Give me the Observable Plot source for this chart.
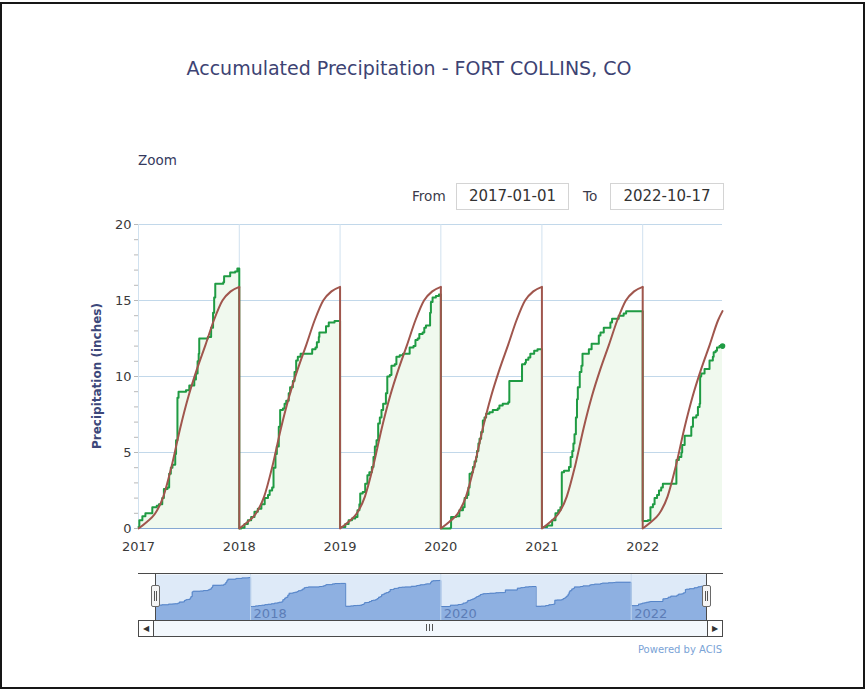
<!DOCTYPE html>
<html>
<head>
<meta charset="utf-8">
<script src="https://cdn.jsdelivr.net/npm/d3@7"></script>
<script src="https://cdn.jsdelivr.net/npm/@observablehq/plot@0.6"></script>
<style>
  body { margin:0; width:867px; height:689px; position:relative; background:#fff; overflow:hidden; font-family:"DejaVu Sans", sans-serif; }
  .abs { position:absolute; }
  .frameBorder { left:0px; top:2px; width:861px; height:683px; border:2px solid #161616; }
  .title { left:0; top:56px; width:818px; text-align:center; font-size:19px; line-height:24px; color:#3d4373; }
  .zoom { left:138px; top:151px; font-size:13.5px; line-height:18px; color:#353a5e; }
  .lbl { font-size:13.6px; line-height:18px; color:#3a3a4a; top:187px; }
  .inp { top:183px; height:25px; border:1px solid #d4d4d4; font-size:15px; line-height:25px; text-align:center; color:#333; }
  .ytitle { left:97px; top:376px; transform:translate(-50%,-50%) rotate(-90deg); font-size:12px; font-weight:bold; color:#3c477a; white-space:nowrap; }
  .handle { width:7px; height:20px; border:1px solid #6a6a6a; background:#f5f5f5; border-radius:2px; top:585px; }
  .handle i { position:absolute; top:5px; width:1px; height:10px; background:#555; }
  .powered { left:600px; top:643px; width:122px; text-align:right; font-size:10px; line-height:14px; color:#7aa3d6; }
</style>
</head>
<body>
<div class="abs frameBorder"></div>
<div class="abs title">Accumulated Precipitation - FORT COLLINS, CO</div>
<div class="abs zoom">Zoom</div>
<div class="abs lbl" style="left:412px">From</div>
<div class="abs inp" style="left:456px; width:111px">2017-01-01</div>
<div class="abs lbl" style="left:583px">To</div>
<div class="abs inp" style="left:610px; width:112px">2022-10-17</div>
<div class="abs ytitle">Precipitation (inches)</div>
<div id="main" class="abs" style="left:0; top:210px"></div>
<div id="nav" class="abs" style="left:0; top:574px"></div>
<!-- navigator outline -->
<div class="abs" style="left:138px; top:573px; width:585px; height:1px; background:#4a4a4a"></div>
<div class="abs" style="left:155px; top:573px; width:1px; height:47px; background:#4a4a4a"></div>
<div class="abs" style="left:706px; top:573px; width:1px; height:47px; background:#4a4a4a"></div>
<div class="abs handle" style="left:151px"><i style="left:2px"></i><i style="left:4px"></i></div>
<div class="abs handle" style="left:702px"><i style="left:2px"></i><i style="left:4px"></i></div>
<!-- scrollbar -->
<div class="abs" style="left:138px; top:620px; width:583px; height:15px; border:1px solid #4a4a4a; background:#f3f8fd"></div>
<div class="abs" style="left:138px; top:620px; width:14px; height:15px; border:1px solid #4a4a4a; background:#fff; font-size:8px; line-height:15px; text-align:center; color:#333">&#9664;</div>
<div class="abs" style="left:707px; top:620px; width:14px; height:15px; border:1px solid #4a4a4a; background:#fff; font-size:8px; line-height:15px; text-align:center; color:#333">&#9654;</div>
<div class="abs" style="left:426px; top:624px; width:1px; height:7px; background:#555"></div>
<div class="abs" style="left:429px; top:624px; width:1px; height:7px; background:#555"></div>
<div class="abs" style="left:432px; top:624px; width:1px; height:7px; background:#555"></div>
<div class="abs powered">Powered by ACIS</div>

<script>
// ---- data ----
const years = [2017, 2018, 2019, 2020, 2021, 2022];
const startDate = "2017-01-01";
const endDate = "2022-10-17";
const yTicks = [0, 5, 10, 15, 20];
const yMinorTicks = [0,1,2,3,4,5,6,7,8,9,10,11,12,13,14,15,16,17,18,19,20];
const xTickYears = [2017, 2018, 2019, 2020, 2021, 2022];
const navTickYears = [2018, 2020, 2022];

// normal accumulated precipitation at the first day of each month (last = Dec 31)
const normalMonthStart = [0, 0.45, 0.95, 2.1, 4.1, 6.6, 8.7, 10.5, 12.1, 13.7, 15.0, 15.6, 15.9];
const normalEnd2022 = 14.3; // normal on 2022-10-17

// observed accumulated precipitation: [day of year offset, inches]
const obs2017 = [[0,0.1],[3,0.55],[14,0.8],[25,1.0],[50,1.4],[66,1.5],[74,1.6],[86,2.0],[92,2.6],[105,2.7],[111,3.6],[117,4.0],[123,4.2],[133,4.9],[136,5.8],[141,8.6],[145,9.0],[172,9.1],[184,9.4],[202,9.8],[208,10.2],[214,11.0],[218,11.5],[220,12.5],[251,12.6],[263,13.2],[270,14.2],[274,15.2],[278,16.1],[307,16.2],[310,16.6],[332,16.85],[350,16.9],[358,17.1]];
const obs2018 = [[0,0],[7,0.05],[19,0.3],[31,0.55],[43,0.75],[55,1.1],[67,1.3],[80,1.6],[92,2.0],[104,2.2],[110,2.5],[119,2.7],[124,4.0],[131,4.9],[136,5.4],[143,6.7],[148,7.8],[158,7.9],[164,8.2],[170,8.4],[179,8.9],[184,9.3],[194,9.7],[200,10.3],[206,11.05],[212,11.3],[222,11.5],[264,11.8],[276,11.9],[281,12.25],[288,12.6],[290,12.9],[314,13.3],[324,13.55],[345,13.65]];
const obs2019 = [[0,0.1],[19,0.3],[31,0.55],[43,0.65],[55,0.75],[63,1.2],[70,1.6],[73,2.3],[82,2.4],[91,2.95],[99,3.5],[106,3.7],[115,4.05],[121,4.7],[126,5.4],[132,5.8],[138,6.9],[144,7.3],[150,7.8],[156,8.2],[166,8.9],[171,10.0],[180,10.1],[186,10.7],[198,10.8],[204,11.3],[216,11.4],[228,11.5],[252,11.9],[266,12.0],[273,12.4],[281,12.5],[287,12.8],[299,12.9],[305,13.2],[311,13.35],[326,14.2],[329,14.9],[335,15.2],[347,15.3],[358,15.4]];
const obs2020 = [[0,0],[35,0.05],[37,0.75],[55,0.8],[67,1.2],[80,1.4],[86,2.0],[95,2.2],[100,2.7],[104,3.6],[112,3.7],[116,4.05],[122,4.4],[128,4.7],[131,5.1],[136,5.6],[140,5.9],[146,6.35],[152,7.1],[158,7.3],[164,7.55],[176,7.65],[188,7.8],[206,7.9],[212,8.1],[224,8.2],[244,8.3],[248,9.7],[294,10.8],[305,10.9],[308,11.1],[317,11.25],[324,11.5],[338,11.7],[350,11.8]];
const obs2021 = [[0,0.1],[19,0.2],[37,0.55],[49,1.0],[59,1.2],[67,1.4],[72,3.7],[80,3.8],[98,4.05],[104,4.7],[110,5.1],[114,5.6],[118,6.2],[123,7.3],[127,8.5],[130,9.3],[137,10.3],[143,10.7],[147,11.5],[170,11.8],[180,12.15],[206,12.7],[212,12.9],[224,13.2],[248,13.55],[254,13.8],[278,14.0],[296,14.15],[305,14.3],[364,14.3]];
const obs2022 = [[0,0.5],[19,0.55],[28,1.4],[37,1.6],[43,2.0],[52,2.2],[59,2.5],[67,2.7],[73,2.95],[122,4.5],[131,4.7],[140,5.0],[143,5.5],[152,6.1],[176,6.7],[182,7.3],[194,7.45],[200,8.0],[206,8.2],[208,10.0],[212,10.2],[224,10.5],[242,11.05],[254,11.3],[257,11.6],[264,11.7],[269,11.9],[278,12.0],[289,12.0]];

// ---- build tables ----
const obsByYear = [obs2017, obs2018, obs2019, obs2020, obs2021, obs2022];
const observed = [];
years.forEach((yr, i) => {
  const pts = obsByYear[i];
  const jan1 = new Date(Date.UTC(yr, 0, 1));
  pts.forEach(([d, v]) => observed.push({date: d3.utcDay.offset(jan1, d), v}));
  if (i < years.length - 1) observed.push({date: new Date(Date.UTC(yr, 11, 31, 23)), v: pts[pts.length - 1][1]});
});

const normal = [];
const normalDrops = [];
years.forEach((yr, i) => {
  const last = i === years.length - 1;
  const nMonths = last ? 10 : 12;
  for (let m = 0; m < nMonths; m++) normal.push({yr, date: new Date(Date.UTC(yr, m, 1)), v: normalMonthStart[m]});
  if (!last) {
    const boundary = new Date(Date.UTC(yr + 1, 0, 1));
    normal.push({yr, date: boundary, v: normalMonthStart[12]});
    normalDrops.push({date: boundary, top: normalMonthStart[12], bottom: normalMonthStart[0]});
  } else normal.push({yr, date: new Date(endDate), v: normalEnd2022});
});

const xDomain = [new Date(startDate), new Date(endDate)];
const xTicks = xTickYears.map(y => new Date(Date.UTC(y, 0, 1)));
const navTicks = navTickYears.map(y => new Date(Date.UTC(y, 0, 1)));

const green = "#1f9b43", brown = "#a0564d";

const main = Plot.plot({
  width: 867, height: 348,
  marginLeft: 138, marginRight: 145, marginTop: 14, marginBottom: 30,
  style: {fontFamily: "DejaVu Sans, sans-serif", fontSize: "13px", color: "#3a3a3a", background: "transparent", overflow: "visible"},
  x: {type: "utc", domain: xDomain},
  y: {domain: [0, 20]},
  marks: [
    Plot.gridY(yTicks, {stroke: "#c2d8ea", strokeOpacity: 1}),
    Plot.gridX(xTicks, {stroke: "#d0e1ef", strokeOpacity: 1}),
    Plot.areaY(observed, {x: "date", y: "v", curve: "step-after", fill: "#f0f9ee"}),
    Plot.ruleY([0], {stroke: "#86a8d2", strokeWidth: 1.2}),
    Plot.line(observed, {x: "date", y: "v", curve: "step-after", stroke: green, strokeWidth: 2}),
    Plot.line(normal, {x: "date", y: "v", z: "yr", curve: "monotone-x", stroke: brown, strokeWidth: 2}),
    Plot.link(normalDrops, {x1: "date", x2: "date", y1: "top", y2: "bottom", stroke: brown, strokeWidth: 2}),
    Plot.dot(observed.slice(-1), {x: "date", y: "v", r: 2.8, fill: green}),
    Plot.axisY(yMinorTicks, {tickSize: 4, tickFormat: () => "", stroke: "#b8b8b8", label: null}),
    Plot.axisY(yTicks, {tickSize: 0, tickPadding: 7, label: null}),
    Plot.axisX(xTicks, {tickSize: 0, tickPadding: 13, tickFormat: d3.utcFormat("%Y"), label: null})
  ]
});
document.getElementById("main").appendChild(main);

const navY = [-8.25, 18.9];
const nav = Plot.plot({
  width: 867, height: 46,
  marginLeft: 155, marginRight: 161, marginTop: 0, marginBottom: 0,
  style: {fontFamily: "DejaVu Sans, sans-serif", fontSize: "13px", background: "transparent", overflow: "visible"},
  x: {type: "utc", domain: xDomain, axis: null},
  y: {domain: navY, axis: null},
  marks: [
    Plot.frame({fill: "#deeaf8", stroke: null}),
    Plot.areaY(observed, {x: "date", y1: navY[0], y2: "v", curve: "step-after", fill: "#8eb0e1"}),
    Plot.line(observed, {x: "date", y: "v", curve: "step-after", stroke: "#5584c8", strokeWidth: 1}),
    Plot.gridX(navTicks, {stroke: "#c9dcef", strokeOpacity: 0.9}),
    Plot.text(navTicks, {x: d => d, text: d => d3.utcFormat("%Y")(d), frameAnchor: "bottom", lineAnchor: "bottom", textAnchor: "start", dx: 3, dy: -3, fill: "#5c7db7"})
  ]
});
document.getElementById("nav").appendChild(nav);
</script>
</body>
</html>
